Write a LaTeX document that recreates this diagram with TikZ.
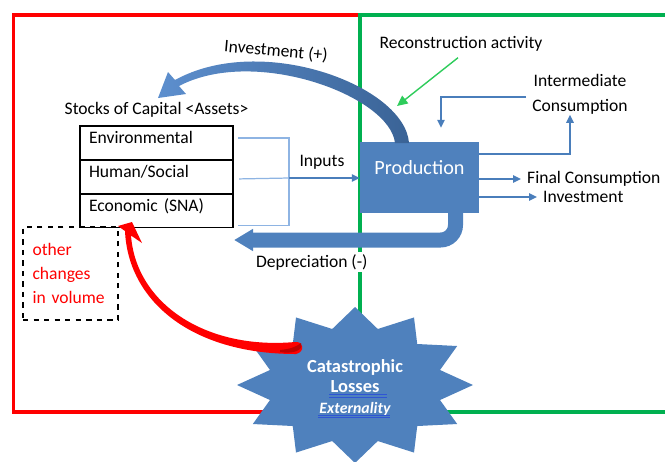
\documentclass[tikz,border=0pt]{standalone}
\usepackage{fontspec}
\setmainfont{Carlito}
\usetikzlibrary{matrix, positioning, calc, arrows.meta}

\definecolor{boxblue}{HTML}{4F81BD}
\definecolor{darkblue}{HTML}{3A6396}
\definecolor{lightblue}{HTML}{5D8FCE}
\definecolor{lineblue}{HTML}{4A7EBB}
\definecolor{paleblue}{HTML}{8EB4E3}
\definecolor{ulblue}{HTML}{2F55D4}
\definecolor{framegreen}{HTML}{00B050}
\definecolor{arrowgreen}{HTML}{2ECC5B}
\definecolor{framered}{HTML}{FF0000}
\definecolor{darkred}{HTML}{C00000}

\tikzset{
    flow/.style={lineblue, line width=0.85pt, -{Triangle[length=4.5pt, width=4.2pt]}},
    feed/.style={paleblue, line width=0.7pt},
    recarrow/.style={arrowgreen, line width=0.8pt, -{Triangle[length=6pt, width=5.5pt]}},
    bigflow/.style={boxblue, line width=0.3cm, rounded corners=0.3cm, -{Triangle[length=0.38cm, width=0.42cm]}},
    prodbox/.style={fill=boxblue, text=white, minimum width=2.38cm, minimum height=1.42cm, inner sep=0pt,
        font=\fontsize{11.5}{13}\selectfont, text height=7.8pt, text depth=11.2pt},
    ocvbox/.style={draw, dashed, line width=0.7pt, text=framered, align=left, text width=1.52cm,
        minimum width=1.9cm, minimum height=1.86cm, font=\fontsize{10}{13.7}\selectfont},
    cattext/.style={text=white, font=\fontsize{10.5}{12}\selectfont\bfseries},
    catline/.style={ulblue, line width=0.45pt, double=boxblue, double distance=0.9pt},
}

\begin{document}
\begin{tikzpicture}[x=0.02cm, y=-0.02cm, every node/.style={font=\fontsize{10}{12}\selectfont}]
    \useasboundingbox (0,0) rectangle (665,461);

    % Frames of the two accounts
    \draw[framered, line width=0.08cm] (360,15) -- (13.5,15) -- (13.5,411.5) -- (300,411.5);
    \draw[framegreen, line width=0.08cm] (360,400) -- (360,15) -- (665,15);
    \draw[framegreen, line width=0.08cm] (420,412) -- (665,412);

    % Stocks of capital
    \matrix (stocks) [matrix of nodes, anchor=north west, inner sep=0pt, row sep=-0.8pt,
        nodes={draw, line width=0.8pt, text width=2.7cm, inner xsep=0.18cm, inner ysep=3pt,
            text height=7pt, text depth=6.3pt, align=left}] at (79,125) {
            Environmental \\
            Human/Social \\
            Economic (SNA) \\
        };

    \node[above=1pt] (stockslabel) at (stocks.north) {Stocks of Capital <Assets>};

    % Production
    \node[prodbox] (prod) at (419.5,177.5) {Production};

    % Inputs
    \coordinate (join) at (289,178);
    \draw[feed] ($(stocks.north east)+(4,13)$) -| (join) |- ($(stocks.south east)+(4,-3)$);
    \draw[feed] ($(stocks.east)+(5,2)$) -- (join);
    \draw[flow] (join) -- (join -| prod.west);
    \node (inputs) at (322,162) {Inputs};

    % Outputs
    \node[align=center, inner ysep=0pt, font=\fontsize{10}{14.2}\selectfont] (interm) at (580,94.5) {Intermediate\\Consumption};
    \node[anchor=west] (fincons) at (521,179) {Final Consumption};
    \node[anchor=west] (invout) at (537,197) {Investment};
    \draw[flow] ([yshift=0.47cm]prod.east) -| ([xshift=-0.2cm]interm.south);
    \draw[flow] ([yshift=-0.05cm]interm.west) -| ([xshift=0.43cm, yshift=0.28cm]prod.north);
    \draw[flow] (prod.east |- fincons) -- (fincons.west);
    \draw[flow] (prod.east |- invout) -- (invout.west);

    % Depreciation
    \coordinate (deprend) at (stocks.east |- 0,240);
    \draw[bigflow] ([xshift=0.72cm, yshift=0.1cm]prod.south) |- (deprend);
    \node[anchor=west, fill=white, inner sep=1pt] (depr) at (254,262) {Depreciation (-)};

    % Investment back to the stocks
    \shade[left color=lightblue, right color=darkblue]
        (409,143) .. controls (405,86) and (262,32) .. (175,80)
        -- (168,72) -- (158,98) -- (186,94) -- (179,86)
        .. controls (255,46) and (390,96) .. (395,143) -- cycle;
    \node[rotate=-5] (invlabel) at (276,51) {Investment (+)};

    % Reconstruction
    \node (recon) at (461,44) {Reconstruction activity};
    \coordinate (rebuild) at (397,106);
    \draw[recarrow] ([xshift=-0.06cm]recon.south) -- (rebuild);

    % Catastrophe
    \fill[boxblue] plot[samples at={0,...,23}, variable=\k]
        ({355 + (mod(\k,2)==0 ? 118 : 88)*cos(90+15*\k)}, {385 - (mod(\k,2)==0 ? 78 : 58)*sin(90+15*\k)}) -- cycle;
    \node[cattext] (catA) at (355,367) {Catastrophic};
    \node[cattext] (catB) at (355,387) {Losses};
    \node[cattext, font=\fontsize{9}{11}\selectfont\bfseries\itshape] (catC) at (355,409) {Externality};
    \draw[catline] ($(catB.base west)+(5,3)$) -- ++(58,0);
    \draw[catline] ($(catC.base west)+(5,3)$) -- ++(72,0);

    % Other changes in volume
    \node[ocvbox] (ocv) at (70.5,273.5) {other\\changes\\in volume};
    \fill[framered] (125,231) .. controls (128,300) and (190,354) .. (296,354)
        .. controls (305,352) and (304,341) .. (295,342)
        .. controls (205,350) and (136,303) .. (131,235.5)
        -- (142,243) -- (132,222) -- (118,226) -- cycle;
    \fill[darkred] (280,352) .. controls (292,354) and (304,351) .. (301,343)
        .. controls (296,347) and (290,349) .. (280,350) -- cycle;
\end{tikzpicture}
\end{document}
